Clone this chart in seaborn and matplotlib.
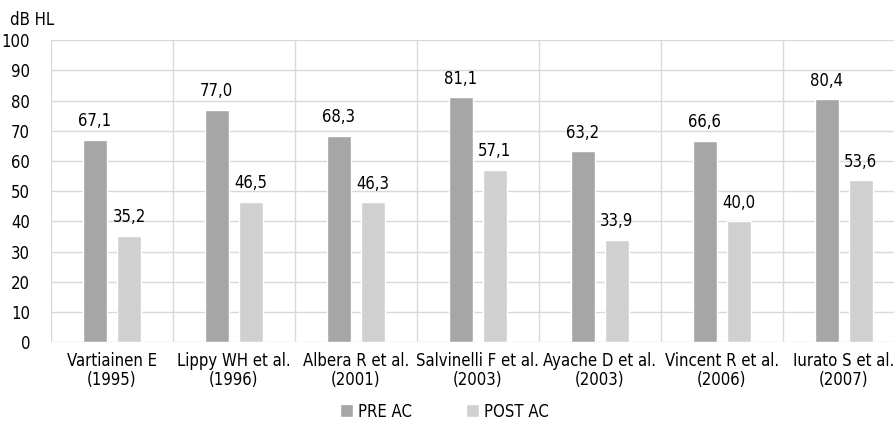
import pandas as pd
import matplotlib.pyplot as plt
import seaborn as sns

studies = ["Vartiainen E\n(1995)", "Lippy WH et al.\n(1996)", "Albera R et al.\n(2001)",
           "Salvinelli F et al.\n(2003)", "Ayache D et al.\n(2003)", "Vincent R et al.\n(2006)",
           "Iurato S et al.\n(2007)"]
pre_ac = [67.1, 77.0, 68.3, 81.1, 63.2, 66.6, 80.4]
post_ac = [35.2, 46.5, 46.3, 57.1, 33.9, 40.0, 53.6]
series = ["PRE AC", "POST AC"]
yticks = [0, 10, 20, 30, 40, 50, 60, 70, 80, 90, 100]

df = pd.DataFrame({
    "study": studies * 2,
    "value": pre_ac + post_ac,
    "series": [series[0]] * len(studies) + [series[1]] * len(studies),
})

sns.set_style("white")
plt.rcParams["font.family"] = ["DejaVu Sans"]
plt.rcParams["font.stretch"] = "condensed"
plt.rcParams["text.color"] = "black"
plt.rcParams["xtick.color"] = "black"
plt.rcParams["ytick.color"] = "black"

fig = plt.figure(figsize=(8.94, 4.23), dpi=100)
ax = fig.add_axes([0.057, 0.191, 0.955, 0.714])

sns.barplot(data=df, x="study", y="value", hue="series",
            palette=["#a6a6a6", "#d0d0d0"], width=0.56, gap=0.29,
            saturation=1, ax=ax, legend=True)

ax.set_ylim(0, 100)
ax.set_xlim(-0.5, len(studies) - 0.5)
ax.set_yticks(yticks)
ax.set_xticks([i - 0.5 for i in range(len(studies) + 1)], minor=True)
ax.grid(axis="y", color="#d9d9d9", linewidth=1)
ax.grid(axis="x", which="minor", color="#d9d9d9", linewidth=1)
ax.set_axisbelow(True)
for s in ax.spines.values():
    s.set_visible(False)
ax.tick_params(axis="both", which="both", length=0, labelsize=12)
ax.tick_params(axis="y", pad=15)
ax.tick_params(axis="x", pad=7)
ax.set_xlabel("")
ax.set_ylabel("")
for lab in ax.get_xticklabels():
    lab.set_linespacing(1.05)

for cont in ax.containers:
    labels = [f"{v:.1f}".replace(".", ",") for v in cont.datavalues]
    ax.bar_label(cont, labels=labels, padding=7, fontsize=12)

fig.text(0.011, 0.952, "dB HL", fontsize=12, ha="left", va="center")

handles, labs = ax.get_legend_handles_labels()
ax.get_legend().remove()
fig.legend(handles, labs, loc="center", bbox_to_anchor=(0.497, 0.027),
           ncol=2, frameon=False, fontsize=12, handlelength=0.8, handleheight=0.8,
           handletextpad=0.3, columnspacing=3.2)

fig.savefig("out.png", dpi=100)
